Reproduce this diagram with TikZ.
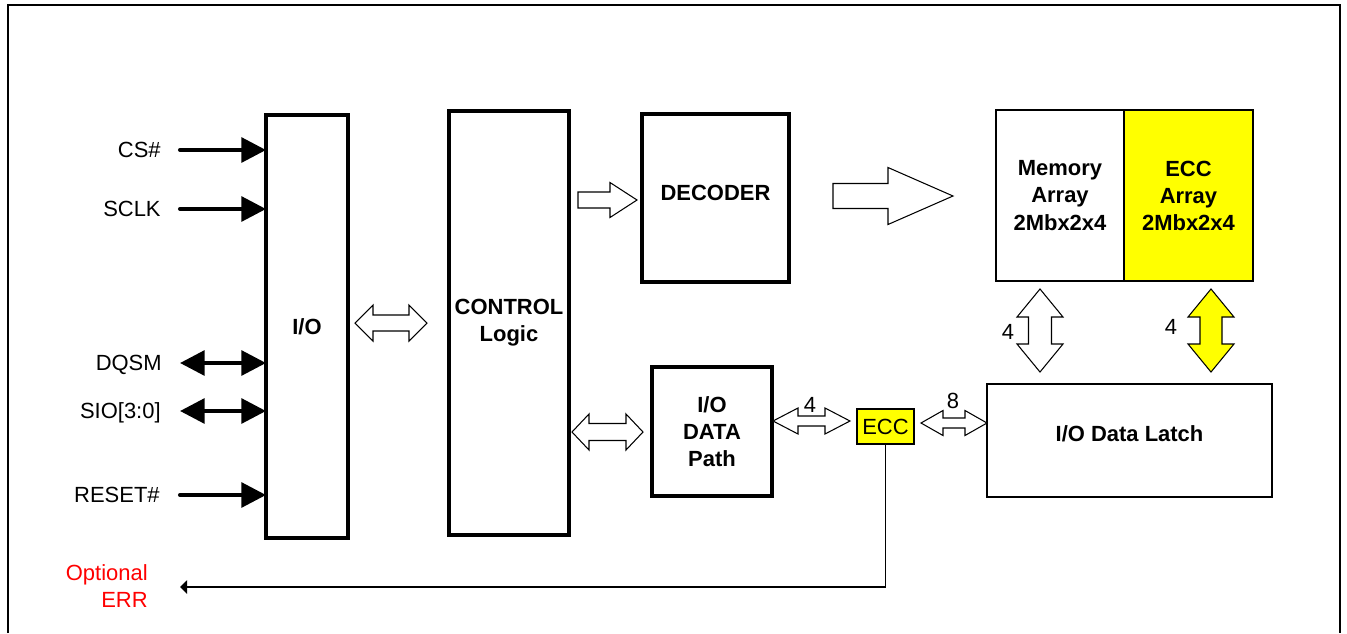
\documentclass[tikz,border=0pt]{standalone}
\usepackage{fontspec}
\setmainfont{Liberation Sans}
\usepackage{xcolor}
\usetikzlibrary{positioning,arrows.meta,calc}

\definecolor{eccyellow}{RGB}{255,255,0}
\definecolor{errred}{RGB}{255,0,0}
\newcommand{\figsize}{\fontsize{12.5}{15.4}\selectfont}

% hollow block arrows (numbers are picture units):
% tip, tip, axis, shaft half width, head half width, head length
\newcommand{\fatdblh}[7][]{%
  \draw[fatarr,#1] (#2,#4) -- ({#2+#7},{#4-#6}) -- ({#2+#7},{#4-#5})
    -- ({#3-#7},{#4-#5}) -- ({#3-#7},{#4-#6}) -- (#3,#4)
    -- ({#3-#7},{#4+#6}) -- ({#3-#7},{#4+#5}) -- ({#2+#7},{#4+#5})
    -- ({#2+#7},{#4+#6}) -- cycle;}
\newcommand{\fatdblv}[7][]{%
  \draw[fatarr,#1] (#4,#2) -- ({#4+#6},{#2+#7}) -- ({#4+#5},{#2+#7})
    -- ({#4+#5},{#3-#7}) -- ({#4+#6},{#3-#7}) -- (#4,#3)
    -- ({#4-#6},{#3-#7}) -- ({#4-#5},{#3-#7}) -- ({#4-#5},{#2+#7})
    -- ({#4-#6},{#2+#7}) -- cycle;}
\newcommand{\fatsgl}[6]{%
  \draw[fatarr] (#1,{#3-#4}) -- ({#2-#6},{#3-#4}) -- ({#2-#6},{#3-#5})
    -- (#2,#3) -- ({#2-#6},{#3+#5}) -- ({#2-#6},{#3+#4})
    -- (#1,{#3+#4}) -- cycle;}

\begin{document}
\begin{tikzpicture}[
    x=0.02cm, y=-0.02cm,
    txt/.style={font=\figsize, inner sep=0pt, text height=9pt, text depth=0pt},
    box/.style={draw, line width=2.2pt, inner sep=0pt, outer sep=0pt,
                align=center, font=\figsize\bfseries},
    thinbox/.style={box, line width=0.8pt},
    fatarr/.style={draw, fill=white, line width=0.6pt, line join=miter},
    sig/.style={line width=2.3pt, line cap=round,
                -{Triangle[length=14pt,width=14pt]}},
    bisig/.style={line width=2.3pt,
                {Triangle[length=14pt,width=14pt]}-{Triangle[length=14pt,width=14pt]}},
    errarr/.style={line width=0.9pt, -{Triangle[length=4pt,width=7.5pt]}},
  ]
  \useasboundingbox (0,0) rectangle (1347,633);
  \draw[line width=1pt] (8,633) -- (8,5) -- (1340,5) -- (1340,633);

  % blocks
  \node[box, minimum width=1.64cm, minimum height=8.46cm] (io)   at (307,326.5) {I/O};
  \node[box, minimum width=2.4cm,  minimum height=8.48cm] (ctrl) at (509,323)   {CONTROL\\Logic};
  \node[box, minimum width=2.94cm, minimum height=3.36cm, text depth=5.7pt] (dec) at (715.5,198) {DECODER};
  \node[box, minimum width=2.4cm,  minimum height=2.58cm] (dp)   at (712,431.5) {I/O\\DATA\\Path};
  \node[thinbox, minimum width=2.56cm, minimum height=3.42cm] (mem) at (1060,195.5)
       {Memory\\Array\\2Mbx2x4};
  \node[thinbox, fill=eccyellow, minimum width=2.58cm, minimum height=3.42cm,
        right=0pt of mem] (eccarr) {ECC\\Array\\2Mbx2x4};
  \node[thinbox, minimum width=5.7cm, minimum height=2.26cm, text depth=8pt] (lat)
       at (1129.5,440.5) {I/O Data Latch};
  \node[thinbox, line width=0.7pt, fill=eccyellow, font=\figsize,
        minimum width=1.14cm, minimum height=0.7cm] (ecc) at (885.5,426.5) {ECC};

  % pins
  \node[txt, anchor=east] (cs)   at (161,150) {CS\#};
  \node[txt, anchor=east] (sclk) at (161,209) {SCLK};
  \node[txt, anchor=east] (dqsm) at (162,363) {DQSM};
  \node[txt, anchor=east] (sio)  at (161,411) {SIO[3:0]};
  \node[txt, anchor=east] (rst)  at (160,495) {RESET\#};
  \node[font=\figsize, inner sep=0pt, text=errred, align=right, anchor=east] (err)
       at (148,586) {Optional\\ERR};
  \coordinate (errend) at (180,587);

  \draw[sig]   ([xshift=0.38cm]cs.east)   -- (cs -| io.west);
  \draw[sig]   ([xshift=0.38cm]sclk.east) -- (sclk -| io.west);
  \draw[bisig] ([xshift=0.36cm]dqsm.east) -- (dqsm -| io.west);
  \draw[bisig] ([xshift=0.38cm]sio.east)  -- (sio -| io.west);
  \draw[sig]   ([xshift=0.4cm]rst.east)   -- (rst -| io.west);
  \draw[errarr] (ecc.south) |- (errend);

  % buses
  \fatdblh{355}{427}{323}{8}{18}{18}
  \fatdblh{572}{643}{432}{8.5}{18}{17}
  \fatdblh{773}{850}{421}{5}{13}{25}
  \fatdblh{921}{987}{423}{5}{12.5}{22}
  \fatdblv{289}{372}{1040}{11.5}{23}{28}
  \fatdblv[fill=eccyellow]{289}{372}{1211}{11}{23}{28}
  \fatsgl{578}{637}{200}{8}{17.5}{27}
  \fatsgl{833}{953}{196}{12.5}{28.5}{65}

  \node[txt] (w4a) at (810,405)  {4};
  \node[txt] (w8)  at (953,401)  {8};
  \node[txt] (w4b) at (1008,332) {4};
  \node[txt] (w4c) at (1171,327) {4};
\end{tikzpicture}
\end{document}
